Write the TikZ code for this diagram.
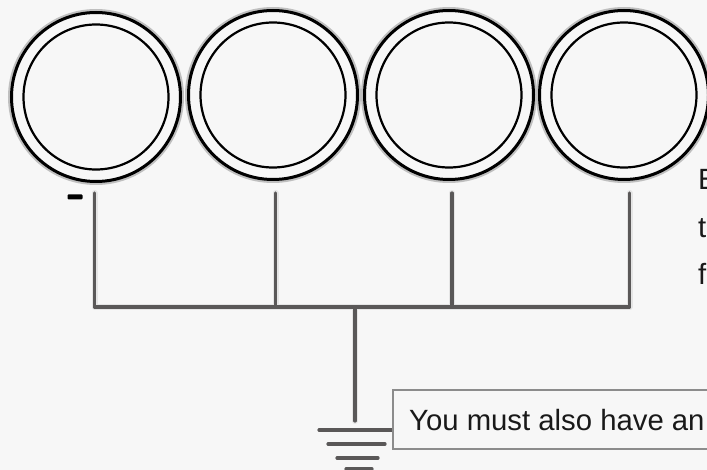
\documentclass[tikz,border=0pt]{standalone}
\usepackage{fontspec}
\setmainfont{Liberation Sans}
\definecolor{pagebg}{HTML}{F7F7F7}
\definecolor{wirecol}{HTML}{5A5858}
\tikzset{
  x=1pt,y=-1pt,
  outerring/.style={circle,draw=black,line width=3pt,fill=pagebg,minimum size=169pt,inner sep=0pt,outer sep=0pt},
  innerring/.style={circle,draw=black,line width=2.2pt,fill=pagebg,minimum size=145pt,inner sep=0pt,outer sep=0pt},
  ringhalo/.style={circle,draw=black!25,line width=6pt,minimum size=170pt,inner sep=0pt,outer sep=0pt},
  wire/.style={draw=wirecol,line width=3.2pt,line cap=round,line join=round},
  wirehalo/.style={draw=black!10,line width=6pt,line cap=round,line join=round},
  gbar/.style={draw=wirecol,line width=3.2pt,line cap=round},
  bodytext/.style={font=\fontsize{29.3}{34}\selectfont,text=black!90,inner sep=0pt,anchor=base west},
  notebox/.style={draw=black!45,line width=1.5pt,fill=pagebg,inner sep=0pt,anchor=north west,minimum width=340pt,minimum height=59pt},
}
\begin{document}
\begin{tikzpicture}
\useasboundingbox (0,0) rectangle (707,470);
\clip (0,0) rectangle (707,470);
\fill[pagebg] (0,0) rectangle (707,470);
% rings
\foreach \cx/\cy/\nm in {96/97/a,273/95/b,449/95/c,624/95/d}{
  \node[ringhalo] (h\nm) at (\cx,\cy) {};
}
\foreach \cx/\cy/\nm in {96/97/a,273/95/b,449/95/c,624/95/d}{
  \node[outerring] (o\nm) at (\cx,\cy) {};
  \node[innerring] (i\nm) at (\cx,\cy) {};
}
% minus sign
\node[fill=black,minimum width=15pt,minimum height=5pt,inner sep=0pt,rounded corners=1pt] (minus) at (75,197) {};
% wiring
\coordinate (ta) at (94.5,193);
\coordinate (tb) at (275.5,193);
\coordinate (tc) at (452,193);
\coordinate (td) at (629.5,193);
\coordinate (ja) at (94.5,307);
\coordinate (jb) at (275.5,307);
\coordinate (jc) at (452,307);
\coordinate (jd) at (629.5,307);
\coordinate (js) at (355,307);
\coordinate (gs) at (355,421);
\draw[wirehalo] (ta) -- (ja) -- (jd) -- (td);
\draw[wirehalo] (tb) -- (jb) (tc) -- (jc) (js) -- (gs);
\draw[wire] (ta) -- (ja) -- (jd) -- (td);
\draw[wire] (tb) -- (jb);
\draw[wire] (tc) -- (jc);
\draw[wire] (js) -- (gs);
% ground bars
\coordinate (g1l) at (319,430); \coordinate (g1r) at (395,430);
\coordinate (g2l) at (328,444); \coordinate (g2r) at (385,444);
\coordinate (g3l) at (337,458); \coordinate (g3r) at (378,458);
\coordinate (g4l) at (346,469); \coordinate (g4r) at (372,469);
\draw[gbar] (g1l) -- (g1r);
\draw[gbar] (g2l) -- (g2r);
\draw[gbar] (g3l) -- (g3r);
\draw[gbar] (g4l) -- (g4r);
% note box
\node[notebox] (note) at (392,389) {};
\node[bodytext] (notetext) at (409,430) {You must also have an};
% right-hand text, cut by the picture's edge as in the reference
\node[bodytext] (t1) at (698,190) {E};
\node[bodytext] (t2) at (698,238) {t};
\node[bodytext] (t3) at (698,285) {f};
\end{tikzpicture}
\end{document}
